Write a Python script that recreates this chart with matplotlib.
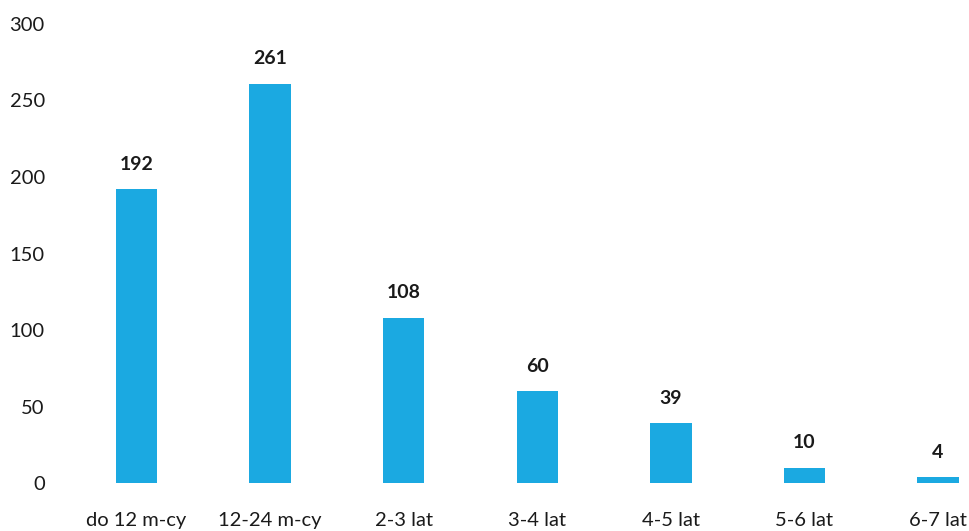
import numpy as np
import matplotlib.pyplot as plt

# Data
categories = ['do 12 m-cy', '12-24 m-cy', '2-3 lat', '3-4 lat', '4-5 lat', '5-6 lat', '6-7 lat']
counts = [192, 261, 108, 60, 39, 10, 4]
yticks = [0, 50, 100, 150, 200, 250, 300]

plt.rcParams['font.family'] = ['Lato', 'DejaVu Sans']

fig = plt.figure(figsize=(9.7, 5.31), dpi=100)
ax = fig.add_axes([0.072, 0.09, 0.928, 0.865])

x = np.arange(len(categories))
bars = ax.bar(x, counts, width=0.31, color='#1BA9E1')

for xi, v in zip(x, counts):
    ax.annotate(str(v), (xi, v), xytext=(0, 18), textcoords='offset points',
                ha='center', va='center', fontsize=14, fontweight='bold', color='#1a1a1a')

ax.set_xlim(-0.5, 6.24)
ax.set_ylim(0, 300)
ax.set_xticks(x)
ax.set_xticklabels(categories)
ax.set_yticks(yticks)
for s in ax.spines.values():
    s.set_visible(False)
ax.tick_params(axis='both', length=0, labelsize=14.5, colors='#1a1a1a')
ax.tick_params(axis='y', pad=18)
ax.tick_params(axis='x', pad=21)

fig.savefig('out.png', dpi=100)
